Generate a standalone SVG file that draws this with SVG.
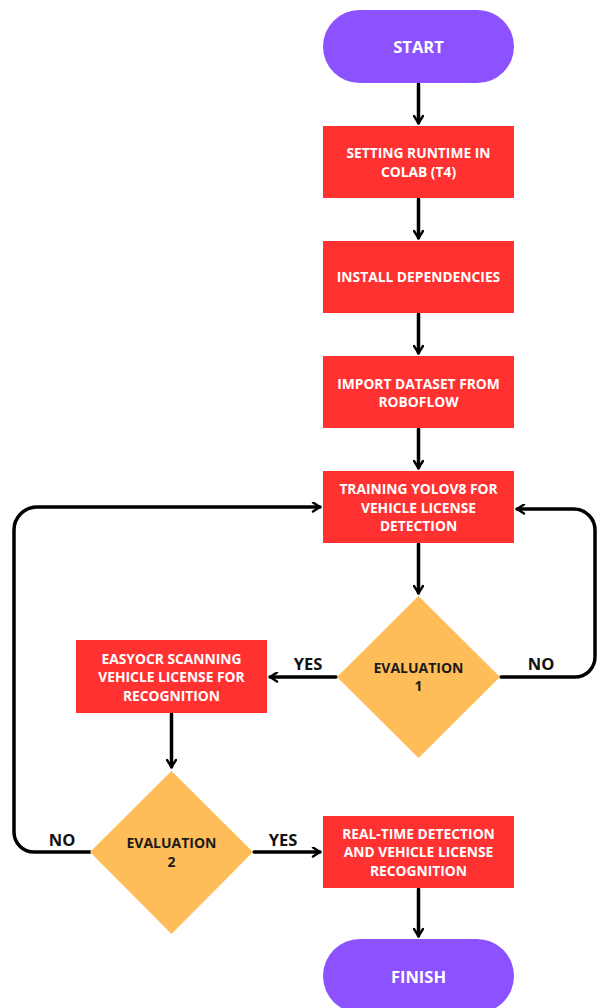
<svg xmlns="http://www.w3.org/2000/svg" width="598" height="1008" viewBox="0 0 598 1008">
<defs>
<style>
.term{fill:#8C52FF}
.proc{fill:#FF3131}
.dec{fill:#FFBD59}
.t{font-family:"Open Sans","Liberation Sans",sans-serif;font-weight:bold;font-size:13.8px;text-anchor:middle;fill:#FFFFFF}
.tt{font-family:"Open Sans","Liberation Sans",sans-serif;font-weight:bold;font-size:16.5px;text-anchor:middle;fill:#FFFFFF}
.d{font-family:"Open Sans","Liberation Sans",sans-serif;font-weight:bold;font-size:14px;text-anchor:middle;fill:#1a1a1a}
.lbl{font-family:"Open Sans","Liberation Sans",sans-serif;font-weight:bold;font-size:16.5px;text-anchor:middle;fill:#111111}
.c{fill:none;stroke:#000;stroke-width:3.5;stroke-linecap:round;stroke-linejoin:round}
</style>
<marker id="ah" viewBox="0 0 11 11" refX="9" refY="5.5" markerWidth="11" markerHeight="11" markerUnits="userSpaceOnUse" orient="auto">
<path d="M2 1 L9 5.5 L2 10" fill="none" stroke="#000" stroke-width="2.4" stroke-linecap="round" stroke-linejoin="round"/>
</marker>
</defs>
<rect width="598" height="1008" fill="#FFFFFF"/>
<g id="connectors">
<path class="c" d="M418.5 84 V123" marker-end="url(#ah)"/>
<path class="c" d="M418.5 199 V238" marker-end="url(#ah)"/>
<path class="c" d="M418.5 314 V353" marker-end="url(#ah)"/>
<path class="c" d="M418.5 429 V468" marker-end="url(#ah)"/>
<path class="c" d="M418.5 544 V593" marker-end="url(#ah)"/>
<path class="c" d="M336 677 H270" marker-end="url(#ah)"/>
<path class="c" d="M501 677 H575 A20 20 0 0 0 595 657 V530 A21 21 0 0 0 574 509 H517" marker-end="url(#ah)"/>
<path class="c" d="M171.5 714 V767" marker-end="url(#ah)"/>
<path class="c" d="M90 852 H34 A20 20 0 0 1 14 832 V530 A23 23 0 0 1 37 507 H320" marker-end="url(#ah)"/>
<path class="c" d="M254 852 H320" marker-end="url(#ah)"/>
<path class="c" d="M418.5 889 V936" marker-end="url(#ah)"/>
</g>
<g id="start">
<rect class="term" x="323" y="10" width="191" height="73" rx="36.5"/>
<text class="tt" x="418.5" y="52.5">START</text>
</g>
<g id="setting-runtime">
<rect class="proc" x="323" y="126" width="191" height="72"/>
<text class="t" x="418.5" y="158">SETTING RUNTIME IN</text>
<text class="t" x="418.5" y="176.5">COLAB (T4)</text>
</g>
<g id="install-deps">
<rect class="proc" x="323" y="241" width="191" height="72"/>
<text class="t" x="418.5" y="282">INSTALL DEPENDENCIES</text>
</g>
<g id="import-dataset">
<rect class="proc" x="323" y="356" width="191" height="72"/>
<text class="t" x="418.5" y="388.5">IMPORT DATASET FROM</text>
<text class="t" x="418.5" y="407">ROBOFLOW</text>
</g>
<g id="training">
<rect class="proc" x="323" y="471" width="191" height="72"/>
<text class="t" x="418.5" y="494">TRAINING YOLOV8 FOR</text>
<text class="t" x="418.5" y="512.5">VEHICLE LICENSE</text>
<text class="t" x="418.5" y="531">DETECTION</text>
</g>
<g id="evaluation-1">
<polygon class="dec" points="418.5,596 500,677 418.5,758 337,677"/>
<text class="d" x="418.5" y="672.5">EVALUATION</text>
<text class="d" x="418.5" y="691">1</text>
</g>
<g id="easyocr">
<rect class="proc" x="76" y="640" width="191" height="73"/>
<text class="t" x="171.5" y="663.5">EASYOCR SCANNING</text>
<text class="t" x="171.5" y="682">VEHICLE LICENSE FOR</text>
<text class="t" x="171.5" y="700.5">RECOGNITION</text>
</g>
<g id="evaluation-2">
<polygon class="dec" points="171.5,771 253,852 171.5,934 90,852"/>
<text class="d" x="171.5" y="848">EVALUATION</text>
<text class="d" x="171.5" y="866.5">2</text>
</g>
<g id="realtime">
<rect class="proc" x="323" y="816" width="191" height="72"/>
<text class="t" x="418.5" y="838.5">REAL-TIME DETECTION</text>
<text class="t" x="418.5" y="857">AND VEHICLE LICENSE</text>
<text class="t" x="418.5" y="875.5">RECOGNITION</text>
</g>
<g id="finish">
<rect class="term" x="323" y="939" width="191" height="74" rx="37"/>
<text class="tt" x="418.5" y="982.5">FINISH</text>
</g>
<g id="labels">
<text class="lbl" x="308" y="670">YES</text>
<text class="lbl" x="541" y="670">NO</text>
<text class="lbl" x="62" y="846">NO</text>
<text class="lbl" x="283" y="846">YES</text>
</g>
</svg>
